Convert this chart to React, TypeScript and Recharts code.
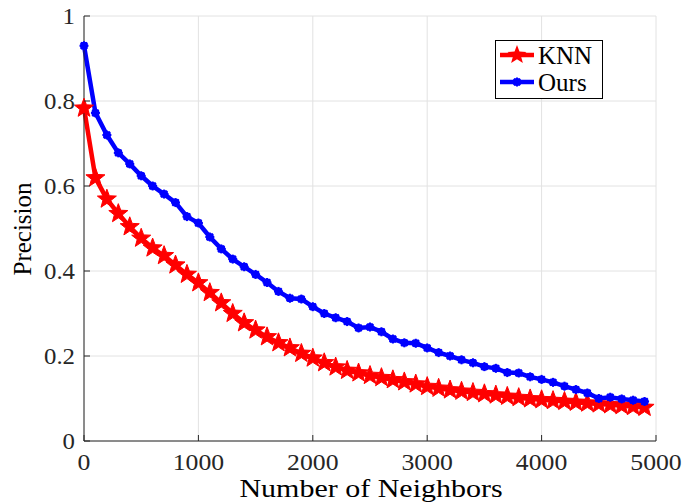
import React from 'react'
import { LineChart, Line, XAxis, YAxis, CartesianGrid, Legend } from 'recharts'

const neighbors = [
  0, 100, 200, 300, 400, 500, 600, 700, 800, 900,
  1000, 1100, 1200, 1300, 1400, 1500, 1600, 1700, 1800, 1900,
  2000, 2100, 2200, 2300, 2400, 2500, 2600, 2700, 2800, 2900,
  3000, 3100, 3200, 3300, 3400, 3500, 3600, 3700, 3800, 3900,
  4000, 4100, 4200, 4300, 4400, 4500, 4600, 4700, 4800, 4900,
]

const knnPrecision = [
  0.783, 0.619, 0.569, 0.535, 0.504, 0.477, 0.454, 0.436, 0.414, 0.392,
  0.372, 0.349, 0.325, 0.3, 0.278, 0.261, 0.245, 0.231, 0.219, 0.206,
  0.195, 0.184, 0.174, 0.166, 0.16, 0.154, 0.149, 0.144, 0.139, 0.134,
  0.128, 0.124, 0.12, 0.117, 0.114, 0.111, 0.108, 0.105, 0.102, 0.099,
  0.097, 0.095, 0.093, 0.091, 0.089, 0.087, 0.085, 0.083, 0.081, 0.079,
]

const oursPrecision = [
  0.93, 0.772, 0.72, 0.678, 0.652, 0.624, 0.6, 0.581, 0.561, 0.528,
  0.513, 0.48, 0.452, 0.428, 0.41, 0.392, 0.373, 0.352, 0.336, 0.334,
  0.316, 0.3, 0.29, 0.281, 0.266, 0.268, 0.257, 0.24, 0.231, 0.23,
  0.219, 0.208, 0.2, 0.191, 0.184, 0.175, 0.171, 0.161, 0.16, 0.151,
  0.145, 0.138, 0.129, 0.121, 0.113, 0.1, 0.103, 0.099, 0.096, 0.093,
]

const xTicks = [0, 1000, 2000, 3000, 4000, 5000]
const yTicks = [0, 0.2, 0.4, 0.6, 0.8, 1]

const data = neighbors.map((n, i) => ({ n, knn: knnPrecision[i], ours: oursPrecision[i] }))

const FONT = 'Liberation Serif, DejaVu Serif, serif'
const AXIS = '#262626'
const PLOT = { left: 84, right: 656, top: 16, bottom: 441 }

function starPoints(cx: number, cy: number, R: number, r: number) {
  const pts: string[] = []
  for (let k = 0; k < 10; k++) {
    const rad = k % 2 === 0 ? R : r
    const a = -Math.PI / 2 + (k * Math.PI) / 5
    pts.push(`${cx + rad * Math.cos(a)},${cy + rad * Math.sin(a)}`)
  }
  return pts.join(' ')
}

const StarDot = (props: any) => {
  const { cx, cy, index } = props
  if (cx == null || cy == null) return null
  return (
    <polygon key={`knn-${index}`} points={starPoints(cx, cy, 10, 4.2)} fill="#ff0000" stroke="#ff0000" strokeWidth={1} />
  )
}

const AsteriskDot = (props: any) => {
  const { cx, cy, index } = props
  if (cx == null || cy == null) return null
  return (
    <g key={`ours-${index}`} stroke="#0000ff" strokeWidth={2}>
      <circle cx={cx} cy={cy} r={3} fill="#0000ff" />
      <line x1={cx - 4.5} x2={cx + 4.5} y1={cy} y2={cy} />
      <line x1={cx} x2={cx} y1={cy - 4.5} y2={cy + 4.5} />
      <line x1={cx - 3.2} x2={cx + 3.2} y1={cy - 3.2} y2={cy + 3.2} />
      <line x1={cx - 3.2} x2={cx + 3.2} y1={cy + 3.2} y2={cy - 3.2} />
    </g>
  )
}

const textStyle = { fontFamily: FONT }

const XTick = ({ x, payload }: any) => (
  <g>
    <line x1={x} x2={x} y1={PLOT.bottom} y2={PLOT.bottom - 6} stroke={AXIS} />
    <text transform={`translate(${x},470) scale(1.12,1)`} textAnchor="middle" fontSize={23} fill={AXIS} style={textStyle}>
      {payload.value}
    </text>
  </g>
)

const YTick = ({ y, payload }: any) => (
  <g>
    <line x1={PLOT.left} x2={PLOT.left + 6} y1={y} y2={y} stroke={AXIS} />
    <text transform={`translate(75,${y + 8}) scale(1.08,1)`} textAnchor="end" fontSize={23} fill={AXIS} style={textStyle}>
      {payload.value}
    </text>
  </g>
)

const XTitle = () => (
  <text transform="translate(371,497) scale(1.2,1)" textAnchor="middle" fontSize={25} fill="#000" style={textStyle}>
    Number of Neighbors
  </text>
)

const YTitle = () => (
  <text transform="translate(31,229) rotate(-90)" textAnchor="middle" fontSize={25} fill="#000" style={textStyle}>
    Precision
  </text>
)

const LegendBox = () => (
  <svg width={108} height={59} style={{ display: 'block' }}>
    <rect x={0.5} y={0.5} width={107} height={58} fill="#fff" stroke="#000" strokeWidth={1} />
    <line x1={5} x2={39} y1={15} y2={15} stroke="#ff0000" strokeWidth={4.5} />
    <polygon points={starPoints(22, 15, 10, 4.2)} fill="#ff0000" />
    <text x={43} y={24} fontSize={25} fill="#000" style={textStyle}>KNN</text>
    <line x1={5} x2={39} y1={42} y2={42} stroke="#0000ff" strokeWidth={4.5} />
    <AsteriskDot cx={22} cy={42} index={0} />
    <text x={43} y={51} fontSize={25} fill="#000" style={textStyle}>Ours</text>
  </svg>
)

export default function App() {
  return (
    <div style={{ position: 'absolute', left: 0, top: 0, width: 684, height: 503, background: '#fff', fontFamily: FONT }}>
      <LineChart width={684} height={503} data={data} margin={{ top: 16, right: 28, bottom: 0, left: 0 }}>
        <CartesianGrid stroke="#e2e2e2" strokeWidth={1} />
        <XAxis
          type="number"
          dataKey="n"
          domain={[0, 5000]}
          ticks={xTicks}
          height={62}
          axisLine={{ stroke: AXIS }}
          tickLine={false}
          tick={<XTick />}
          label={<XTitle />}
        />
        <YAxis
          type="number"
          domain={[0, 1]}
          ticks={yTicks}
          width={84}
          axisLine={{ stroke: AXIS }}
          tickLine={false}
          tick={<YTick />}
          label={<YTitle />}
        />
        <Legend
          layout="vertical"
          align="center"
          verticalAlign="middle"
          content={<LegendBox />}
          wrapperStyle={{ position: 'absolute', left: 495, top: 40, width: 108, height: 59 }}
        />
        <Line
          type="linear"
          dataKey="knn"
          name="KNN"
          stroke="#ff0000"
          strokeWidth={4.5}
          dot={StarDot}
          activeDot={false}
          isAnimationActive={false}
        />
        <Line
          type="linear"
          dataKey="ours"
          name="Ours"
          stroke="#0000ff"
          strokeWidth={4.5}
          dot={AsteriskDot}
          activeDot={false}
          isAnimationActive={false}
        />
      </LineChart>
    </div>
  )
}
